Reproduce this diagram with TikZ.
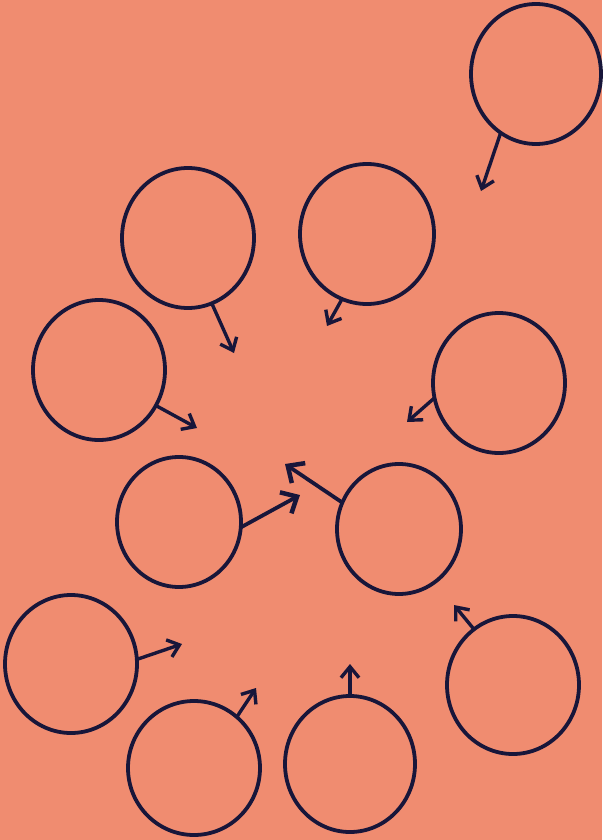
\documentclass[tikz,border=0pt]{standalone}
\usetikzlibrary{shapes.geometric,arrows.meta}
\definecolor{paper}{RGB}{240,140,112}
\definecolor{ink}{RGB}{24,22,58}
\begin{document}
\begin{tikzpicture}[x=1pt,y=-1pt,
  blob/.style={ellipse,draw=ink,line width=3.8pt,inner sep=0pt,outer sep=0pt,minimum width=#1},
  link/.style={draw=ink,line width=3.4pt,line cap=round,-{Straight Barb[length=11pt,width=18pt,line width=3.4pt]}},
  boldlink/.style={draw=ink,line width=3.8pt,line cap=round,-{Straight Barb[length=13pt,width=24pt,line width=4.5pt]}}]
\fill[paper] (0,0) rectangle (602,840);
\useasboundingbox (0,0) rectangle (602,840);
\node[blob=130pt,minimum height=140pt] (c1) at (536,74) {};
\node[blob=132pt,minimum height=140pt] (c2) at (188,238) {};
\node[blob=134pt,minimum height=140pt] (c3) at (367,234) {};
\node[blob=132pt,minimum height=140pt] (c4) at (99,370) {};
\node[blob=132pt,minimum height=140pt] (c5) at (499,383) {};
\node[blob=124pt,minimum height=130pt] (c6) at (179,522) {};
\node[blob=124pt,minimum height=130pt] (c7) at (399,529) {};
\node[blob=132pt,minimum height=138pt] (c8) at (71,664) {};
\node[blob=132pt,minimum height=138pt] (c9) at (513,685) {};
\node[blob=132pt,minimum height=134pt] (c10) at (194,768) {};
\node[blob=130pt,minimum height=136pt] (c11) at (350,764) {};
\coordinate (t1) at (481,191);
\coordinate (t2) at (234,353);
\coordinate (t3) at (327,326);
\coordinate (t4) at (197,428);
\coordinate (t5) at (407,422);
\coordinate (t6) at (300,495);
\coordinate (t7) at (285,464);
\coordinate (t8) at (182,644);
\coordinate (t9) at (454,605);
\coordinate (t10) at (256,688);
\coordinate (t11) at (350,664);
\draw[link] (c1.-121) -- (t1);
\draw[link] (c2.-70) -- (t2);
\draw[link] (c3.-111) -- (t3);
\draw[link] (c4.-32) -- (t4);
\draw[link] (c5.-167) -- (t5);
\draw[boldlink] (c6.-5) -- (t6);
\draw[boldlink] (c7.155) -- (t7);
\draw[link] (c8.4) -- (t8);
\draw[link] (c9.125) -- (t9);
\draw[link] (c10.50) -- (t10);
\draw[link] (c11.90) -- (t11);
\end{tikzpicture}
\end{document}
